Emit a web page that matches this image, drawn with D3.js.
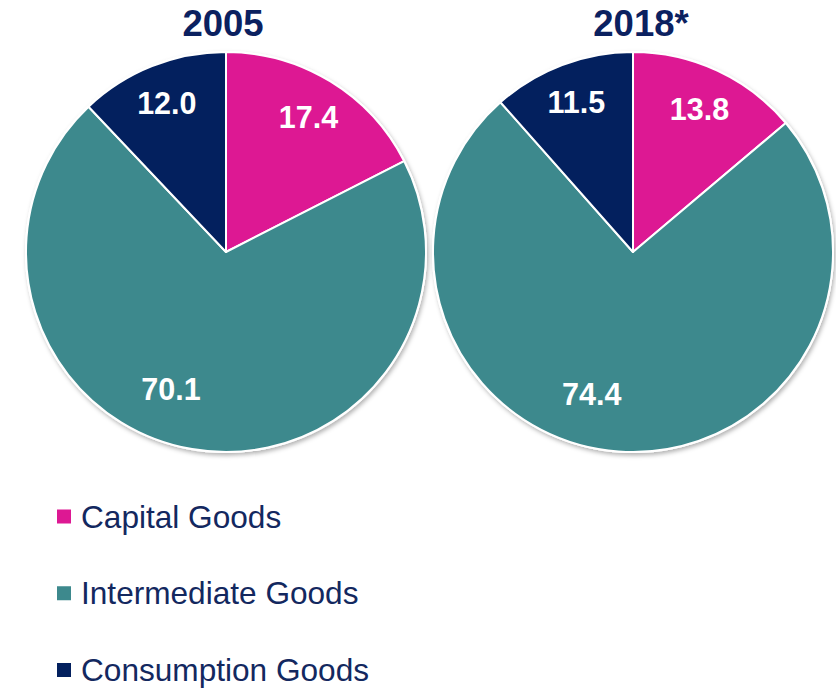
<!DOCTYPE html>
<html>
<head>
<meta charset="utf-8">
<script src="https://cdn.jsdelivr.net/npm/d3@7"></script>
<style>
  html, body { margin: 0; padding: 0; background: #ffffff; }
  svg { display: block; font-family: "Liberation Sans", Arial, sans-serif; }
</style>
</head>
<body>
<svg id="chart" width="836" height="688"></svg>
<script>
// ---- data ----
const categories = ["Capital Goods", "Intermediate Goods", "Consumption Goods"];
const years = ["2005", "2018*"];
const values2005 = [17.4, 70.1, 12.0];
const values2018 = [13.8, 74.4, 11.5];
const seriesValues = [values2005, values2018];

// ---- style / layout ----
const colors = ["#DD1893", "#3D898D", "#03205E"];
const navy = "#0B2160";
const pieCenters = [[226, 252], [633, 252]];
const radius = 200;
const titleDx = [-3, 8];
const titleY = 36;
const labelRadiusFrac = [0.79, 0.74, 0.80];
const labelAngleShift = [0, 0.21, 0];
const labelFont = 30.5;

const svg = d3.select("#chart");
const defs = svg.append("defs");
const f = defs.append("filter").attr("id", "shadow")
  .attr("x", "-10%").attr("y", "-10%").attr("width", "120%").attr("height", "120%");
f.append("feDropShadow").attr("dx", 1.5).attr("dy", 2.5).attr("stdDeviation", 2)
  .attr("flood-color", "#000").attr("flood-opacity", 0.3);

const color = d3.scaleOrdinal().domain(categories).range(colors);
const pie = d3.pie().sort(null).value(d => d.value);
const arc = d3.arc().innerRadius(0).outerRadius(radius);

seriesValues.forEach((vals, pi) => {
  const [cx, cy] = pieCenters[pi];
  const data = categories.map((c, i) => ({ cat: c, value: vals[i], idx: i }));
  const arcs = pie(data);
  const g = svg.append("g").attr("transform", `translate(${cx},${cy})`);

  g.append("circle").attr("r", radius + 1).attr("fill", "#fff")
    .attr("filter", "url(#shadow)");

  g.selectAll("path.slice").data(arcs).join("path")
    .attr("class", "slice")
    .attr("d", arc)
    .attr("fill", d => color(d.data.cat))
    .attr("stroke", "#fff")
    .attr("stroke-width", 2)
    .attr("stroke-linejoin", "round");

  g.selectAll("text.lbl").data(arcs).join("text")
    .attr("class", "lbl")
    .each(function (d) {
      const i = d.data.idx;
      const a = (d.startAngle + d.endAngle) / 2 + labelAngleShift[i];
      const r = radius * labelRadiusFrac[i];
      d3.select(this).attr("x", Math.sin(a) * r).attr("y", -Math.cos(a) * r + labelFont * 0.358);
    })
    .attr("text-anchor", "middle")
    .attr("font-size", labelFont)
    .attr("font-weight", "bold")
    .attr("fill", "#fff")
    .text(d => d.data.value.toFixed(1));

  svg.append("text")
    .attr("x", cx + titleDx[pi]).attr("y", titleY)
    .attr("text-anchor", "middle")
    .attr("font-size", 36.5).attr("font-weight", "bold")
    .attr("fill", navy)
    .text(years[pi]);
});

// ---- legend ----
const legendY = d3.scalePoint().domain(categories).range([516.5, 670]);
const items = svg.append("g").selectAll("g").data(categories).join("g")
  .attr("transform", d => `translate(57,${legendY(d)})`);
items.append("rect").attr("x", 0).attr("y", -7).attr("width", 14).attr("height", 14)
  .attr("fill", d => color(d));
items.append("text").attr("x", 24).attr("y", 11)
  .attr("font-size", 31.6).attr("fill", "#13285F")
  .text(d => d);
</script>
</body>
</html>
